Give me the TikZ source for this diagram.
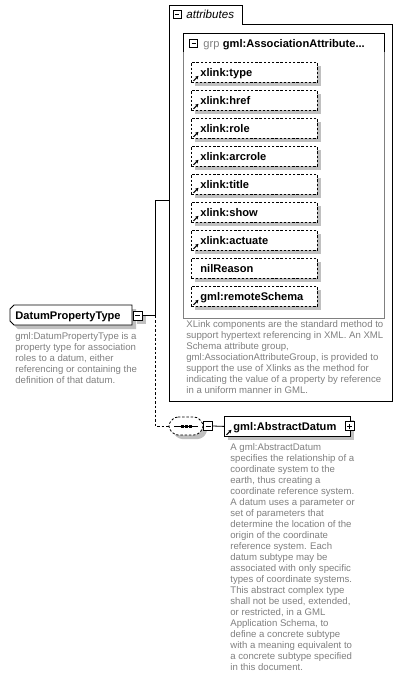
\documentclass[tikz,border=0pt]{standalone}
\usepackage{fontspec}
\setmainfont{Liberation Sans}
\usetikzlibrary{shadows,arrows.meta,calc}
\definecolor{shadowgray}{HTML}{C0C0C0}
\definecolor{descgray}{HTML}{808080}
\tikzset{
  boxshadow/.style={drop shadow={shadow xshift=4pt, shadow yshift=-4pt, fill=shadowgray, opacity=1}},
  attrbox/.style={draw=black, dash pattern=on 2.4pt off 1.8pt, fill=white, line width=0.8pt,
    minimum width=126pt, minimum height=20pt, anchor=north west, inner sep=0, boxshadow},
  lbl/.style={font=\bfseries\fontsize{11.1}{12}\selectfont, anchor=base west, inner sep=0},
  desc/.style={font=\fontsize{9.6}{11}\selectfont, text=descgray, align=left, anchor=north west, inner sep=0},
  minusicon/.style={draw=black, fill=white, minimum size=9pt, inner sep=0, line width=0.6pt,
    path picture={\draw[line width=0.6pt] ([xshift=2pt]path picture bounding box.west) -- ([xshift=-2pt]path picture bounding box.east);}},
  plusicon/.style={minusicon, path picture={\draw[line width=0.6pt] ([xshift=2pt]path picture bounding box.west) -- ([xshift=-2pt]path picture bounding box.east); \draw[line width=0.6pt] ([yshift=2pt]path picture bounding box.south) -- ([yshift=-2pt]path picture bounding box.north);}},
  refarrow/.style={-{Stealth[length=3.4pt,width=3.6pt]}, line width=1.1pt},
  conn/.style={line width=0.8pt},
  dconn/.style={line width=0.8pt, dash pattern=on 2.5pt off 2pt},
}
\begin{document}
\begin{tikzpicture}[x=1pt,y=-1pt,line width=0.8pt]
\useasboundingbox[fill=white] (0,0) rectangle (403,679);

% ---------- attributes container ----------
\draw (169,401) -- (169,5) -- (242,5) -- (242,24) -- (392,24) -- (392,401) -- cycle;
\coordinate (attrL) at (169,200);
\node[minusicon, minimum size=8pt] (mattr) at (177,14) {};
\node[font=\itshape\fontsize{11.6}{12}\selectfont, anchor=base west, inner sep=0] (tattr) at (186,18.5) {attributes};

% inner group box
\draw[descgray] (183,33) rectangle (384,318);
\draw (183,52) -- (183,33) -- (384,33) -- (384,52);
\node[minusicon, minimum size=8pt] (mgrp) at (193.5,43) {};
\node[lbl] (tgrp) at (203,47.5) {{\mdseries\color{descgray}grp}\hspace{3.5pt}gml:AssociationAttribute...};

% attribute boxes
\foreach \i/\t/\ic in {0/xlink:type/1,1/xlink:href/1,2/xlink:role/1,3/xlink:arcrole/1,4/xlink:title/1,5/xlink:show/1,6/xlink:actuate/1,7/nilReason/0,8/gml:remoteSchema/1}{
  \pgfmathsetmacro{\yy}{62+28*\i}
  \node[attrbox] (att\i) at (191,\yy) {};
  \node[lbl] (tatt\i) at (200,\yy+14.5) {\t};
  \ifnum\ic=1
    \draw[refarrow] ([xshift=2.5pt,yshift=2pt]att\i.south west) -- ++(5,-5);
  \fi
}

\node[desc] (dattr) at (186,320) {XLink components are the standard method to\\support hypertext referencing in XML. An XML\\Schema attribute group,\\gml:AssociationAttributeGroup, is provided to\\support the use of Xlinks as the method for\\indicating the value of a property by reference\\in a uniform manner in GML.};

% ---------- DatumPropertyType ----------
\fill[shadowgray] (18,309) -- (136,309) -- (136,329) -- (18,329) -- (14,325) -- (14,313) -- cycle;
\draw[fill=white] (14,305) -- (132,305) -- (132,325) -- (14,325) -- (10,321) -- (10,309) -- cycle;
\node[lbl] (tdpt) at (15,319.5) {DatumPropertyType};
\fill[shadowgray] (137,315) rectangle (146,324);
\node[minusicon] (mdpt) at (137.5,315.5) {};
\node[desc] (ddpt) at (15,332) {gml:DatumPropertyType is a\\property type for association\\roles to a datum, either\\referencing or containing the\\definition of that datum.};

% connectors
\coordinate (j1) at (155,315.5);
\coordinate (j2) at (155,200);
\coordinate (j3) at (155,426);
\draw[conn] (mdpt.east) -- (j1) -- (j2) -- (attrL);
\draw[dconn] (j1) -- (j3) -- (169,426);

% ---------- sequence compositor ----------
\fill[shadowgray, rounded corners=3pt] (179,421) -- (201,421) -- (207,427) -- (207,433) -- (201,439) -- (179,439) -- (173,433) -- (173,427) -- cycle;
\draw[dash pattern=on 2.4pt off 1.8pt, fill=white, rounded corners=3pt] (175,417) -- (197,417) -- (203,423) -- (203,429) -- (197,435) -- (175,435) -- (169,429) -- (169,423) -- cycle;
\node[inner sep=0, minimum width=34pt, minimum height=18pt] (seq) at (186,426) {};
\draw[line width=1pt] (174,426) -- (198,426);
\foreach \xx in {182,186,190} \fill (\xx-1.5,424.5) rectangle (\xx+1.5,427.5);
\node[minusicon] (mseq) at (208,426) {};
\draw[conn] (seq.east) -- (mseq.west);

% ---------- gml:AbstractDatum ----------
\node[draw=black, fill=white, minimum width=126pt, minimum height=20pt, anchor=north west, inner sep=0, boxshadow] (ad) at (224,416) {};
\node[lbl] (tad) at (233,430.5) {gml:AbstractDatum};
\draw[refarrow] ([xshift=2.5pt,yshift=2pt]ad.south west) -- ++(5,-5);
\node[plusicon] (pad) at (349.5,426) {};
\draw[conn] (mseq.east) -- (ad.west);

\node[desc] (dad) at (230,443) {A gml:AbstractDatum\\specifies the relationship of a\\coordinate system to the\\earth, thus creating a\\coordinate reference system.\\A datum uses a parameter or\\set of parameters that\\determine the location of the\\origin of the coordinate\\reference system. Each\\datum subtype may be\\associated with only specific\\types of coordinate systems.\\This abstract complex type\\shall not be used, extended,\\or restricted, in a GML\\Application Schema, to\\define a concrete subtype\\with a meaning equivalent to\\a concrete subtype specified\\in this document.};
\end{tikzpicture}
\end{document}
